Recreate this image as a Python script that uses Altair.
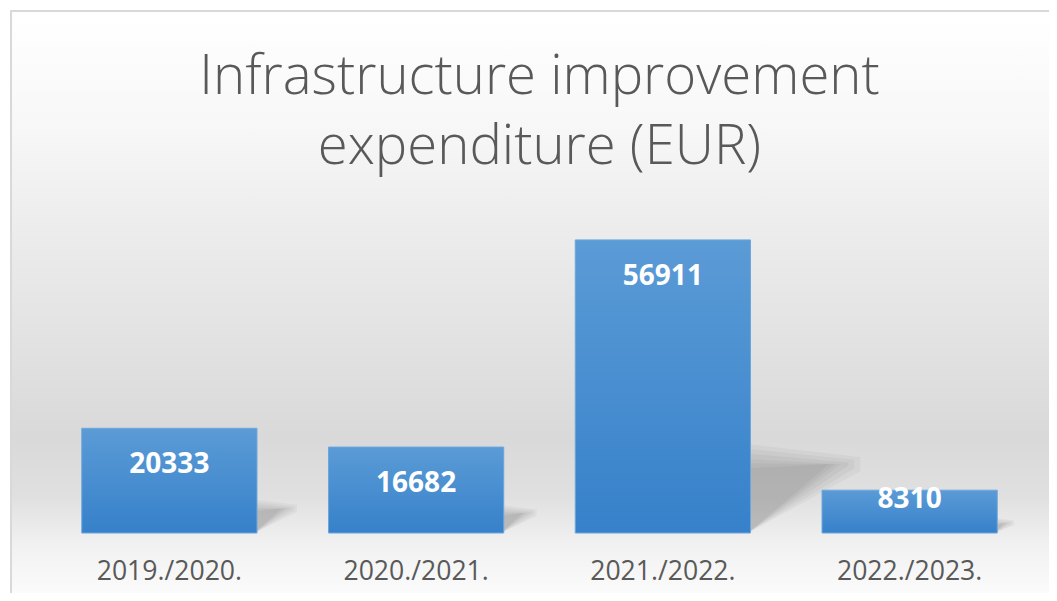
import altair as alt
import pandas as pd

# ---- data ----
CATEGORIES = ["2019./2020.", "2020./2021.", "2021./2022.", "2022./2023."]
VALUES = [20333, 16682, 56911, 8310]
TITLE_LINES = ["Infrastructure improvement", "expenditure (EUR)"]

df = pd.DataFrame({"season": CATEGORIES, "value": VALUES})

W, H = 987, 309
FONT = "Open Sans"
GREY_TEXT = "#595959"
Y_MAX = 60000
PAD_INNER = 0.29

# ---- soft perspective shadow (derived from the values, drawn through the scales) ----
PX = Y_MAX / H              # value units per pixel
STEP = W / len(CATEGORIES)  # pixels per band step
half_bar = (1 - PAD_INNER) / 2
BLUR_LEVELS = [-0.9, -0.55, -0.2, 0.2, 0.55, 0.9]
shadow_rows = []
for i, (cat, v) in enumerate(zip(CATEGORIES, VALUES)):
    xr = i + 0.5 + half_bar - 0.01
    hpx = v / PX
    w_px = 0.33 * hpx
    top_px = 0.262 * hpx
    tip_px = 0.235 * hpx
    blur = 3 + 0.035 * hpx
    for lvl, f in enumerate(BLUR_LEVELS):
        e = f * blur
        grow = max(e, 0) * 0.6
        shadow_rows.append(dict(season=cat, level=lvl, sx=xr,
                                stop=(top_px + e) * PX, sbot=0.0))
        shadow_rows.append(dict(season=cat, level=lvl, sx=xr + (w_px + 1.3 * e) / STEP,
                                stop=(tip_px + grow) * PX, sbot=max(tip_px - grow, 0) * PX))
shadow_df = pd.DataFrame(shadow_rows)

y_scale = alt.Scale(domain=[0, Y_MAX], nice=False, zero=True)
x_scale = alt.Scale(paddingInner=PAD_INNER, paddingOuter=PAD_INNER / 2)

x_band = alt.X(
    "season:N",
    sort=CATEGORIES,
    scale=x_scale,
    axis=alt.Axis(
        title=None, domain=False, ticks=False, tickSize=0, grid=False,
        labelFont=FONT, labelFontSize=26.6, labelColor=GREY_TEXT,
        labelPadding=46, labelBaseline="alphabetic", labelAngle=0, zindex=2,
    ),
)

bg_grad = {
    "gradient": "linear", "x1": 0, "y1": 0, "x2": 0, "y2": 1,
    "stops": [
        {"offset": 0.0, "color": "#ffffff"},
        {"offset": 0.2, "color": "#f7f7f7"},
        {"offset": 0.37, "color": "#ececec"},
        {"offset": 0.54, "color": "#e3e3e3"},
        {"offset": 0.72, "color": "#d9d9d9"},
        {"offset": 0.82, "color": "#e0e0e0"},
        {"offset": 0.9, "color": "#f1f1f1"},
        {"offset": 1.0, "color": "#fdfdfd"},
    ],
}

bar_grad = {
    "gradient": "linear", "x1": 0, "y1": 0, "x2": 0, "y2": 1,
    "stops": [
        {"offset": 0, "color": "#5b9bd6"},
        {"offset": 1, "color": "#3681ca"},
    ],
}

background = alt.Chart(pd.DataFrame({"k": [0]})).mark_rect(
    fill=bg_grad, stroke="#d9d9d9", strokeWidth=2
).encode(
    x=alt.value(-35), x2=alt.value(1010), y=alt.value(-213), y2=alt.value(380)
)

shadows = alt.Chart(shadow_df).mark_area(
    color="#000000", fillOpacity=0.036, strokeWidth=0
).encode(
    x=alt.X("sx:Q", scale=alt.Scale(domain=[0, len(CATEGORIES)], nice=False, zero=False), axis=None),
    y=alt.Y("stop:Q", scale=y_scale, axis=None, stack=None),
    y2="sbot:Q",
    detail=["season:N", "level:N"],
)

bars = alt.Chart(df).mark_bar(fill=bar_grad, stroke="#6aa6dd", strokeWidth=1).encode(
    x=x_band,
    y=alt.Y("value:Q", scale=y_scale, axis=None),
)

labels = alt.Chart(df).transform_calculate(
    lab=f"max(datum.value - {45 * PX}, {25 * PX})"
).mark_text(
    font=FONT, fontSize=28, fontWeight="bold", color="white",
    baseline="alphabetic", align="center",
).encode(
    x=x_band,
    y=alt.Y("lab:Q", scale=y_scale, axis=None),
    text=alt.Text("value:Q", format="d"),
)

title = alt.Chart(pd.DataFrame({"t": ["\n".join(TITLE_LINES)]})).mark_text(
    font=FONT, fontSize=54.5, fontWeight=300, color=GREY_TEXT,
    lineBreak="\n", lineHeight=70, align="center", baseline="alphabetic",
).encode(x=alt.value(W / 2), y=alt.value(-130), text="t:N")

chart = alt.layer(
    background, shadows, alt.layer(bars, labels), title
).resolve_scale(x="independent").properties(
    width=W, height=H,
    padding={"left": 38, "top": 216, "right": 16, "bottom": 60},
    autosize=alt.AutoSizeParams(type="none"),
).configure_view(strokeWidth=0).configure(background="white")

chart.save("out.html", embed_options={"renderer": "svg", "actions": False})
